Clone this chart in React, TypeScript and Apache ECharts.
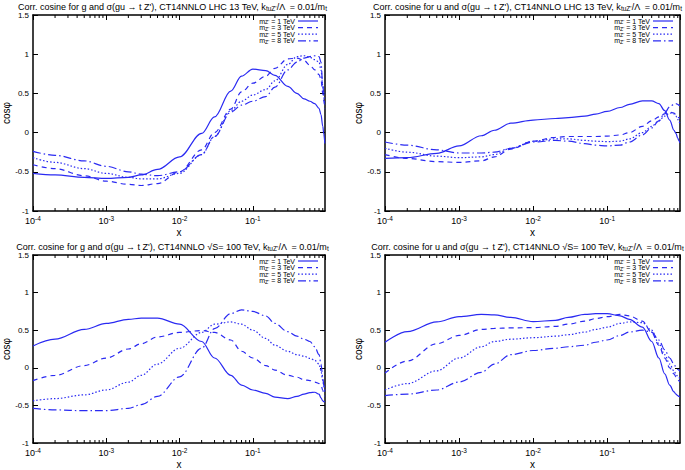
import React, { useEffect, useRef } from "react";
import * as echarts from "echarts";

// shared x sampling (momentum fraction)
const xs = [1e-4, 2e-4, 5e-4, 1e-3, 2e-3, 3e-3, 5e-3, 1e-2, 2e-2, 3e-2, 5e-2, 7e-2, 0.1, 0.15, 0.2, 0.3, 0.4, 0.5, 0.6, 0.7, 0.8, 0.85, 0.9, 0.93, 0.96];

// LHC 13 TeV, gluon
const lhcG1 = [-0.52, -0.54, -0.57, -0.585, -0.57, -0.54, -0.47, -0.31, -0.01, 0.2, 0.53, 0.72, 0.81, 0.79, 0.73, 0.59, 0.5, 0.43, 0.4, 0.37, 0.31, 0.23, 0.08, -0.02, -0.14];
const lhcG3 = [-0.41, -0.46, -0.55, -0.62, -0.66, -0.675, -0.65, -0.5, -0.22, 0.0, 0.3, 0.52, 0.63, 0.72, 0.82, 0.94, 0.95, 0.92, 0.86, 0.8, 0.74, 0.68, 0.5, 0.4, 0.3];
const lhcG5 = [-0.32, -0.38, -0.46, -0.52, -0.57, -0.59, -0.59, -0.52, -0.28, -0.05, 0.28, 0.4, 0.48, 0.55, 0.66, 0.87, 0.97, 0.98, 0.96, 0.93, 0.9, 0.8, 0.6, 0.45, 0.35];
const lhcG8 = [-0.24, -0.29, -0.36, -0.43, -0.5, -0.53, -0.55, -0.5, -0.28, -0.05, 0.26, 0.35, 0.4, 0.46, 0.58, 0.8, 0.9, 0.95, 0.97, 0.98, 0.97, 0.9, 0.6, 0.5, 0.45];

// LHC 13 TeV, u quark
const lhcU1 = [-0.33, -0.32, -0.265, -0.17, -0.04, 0.03, 0.12, 0.16, 0.18, 0.19, 0.21, 0.235, 0.27, 0.32, 0.36, 0.405, 0.405, 0.37, 0.28, 0.16, 0.03, -0.01, -0.07, -0.1, -0.13];
const lhcU3 = [-0.28, -0.33, -0.37, -0.38, -0.36, -0.31, -0.21, -0.11, -0.06, -0.05, -0.05, -0.05, -0.045, -0.03, 0.0, 0.08, 0.15, 0.2, 0.24, 0.26, 0.25, 0.23, 0.2, 0.19, 0.18];
const lhcU5 = [-0.2, -0.25, -0.3, -0.32, -0.31, -0.28, -0.2, -0.11, -0.08, -0.08, -0.1, -0.11, -0.115, -0.11, -0.08, 0.0, 0.08, 0.15, 0.21, 0.25, 0.24, 0.21, 0.17, 0.14, 0.12];
const lhcU8 = [-0.12, -0.16, -0.22, -0.26, -0.26, -0.25, -0.2, -0.12, -0.1, -0.11, -0.14, -0.16, -0.17, -0.16, -0.12, -0.03, 0.06, 0.15, 0.25, 0.33, 0.36, 0.37, 0.36, 0.35, 0.34];

// 100 TeV, gluon
const fccG1 = [0.29, 0.38, 0.51, 0.59, 0.645, 0.66, 0.66, 0.58, 0.35, 0.13, -0.1, -0.23, -0.295, -0.34, -0.39, -0.41, -0.38, -0.35, -0.33, -0.325, -0.35, -0.4, -0.44, -0.45, -0.45];
const fccG3 = [-0.17, -0.1, 0.03, 0.13, 0.25, 0.32, 0.41, 0.47, 0.495, 0.47, 0.37, 0.22, 0.13, 0.03, -0.03, -0.1, -0.125, -0.16, -0.17, -0.19, -0.21, -0.23, -0.3, -0.34, -0.38];
const fccG5 = [-0.44, -0.41, -0.36, -0.295, -0.19, -0.1, 0.05, 0.26, 0.47, 0.58, 0.61, 0.58, 0.5, 0.39, 0.3, 0.22, 0.175, 0.155, 0.125, 0.1, 0.05, -0.04, -0.17, -0.24, -0.3];
const fccG8 = [-0.54, -0.56, -0.57, -0.57, -0.54, -0.49, -0.38, -0.12, 0.26, 0.52, 0.72, 0.77, 0.75, 0.69, 0.59, 0.48, 0.42, 0.38, 0.35, 0.28, 0.175, 0.05, -0.12, -0.24, -0.34];

// 100 TeV, u quark
const fccU1 = [0.34, 0.48, 0.61, 0.68, 0.71, 0.705, 0.67, 0.615, 0.63, 0.67, 0.71, 0.72, 0.72, 0.69, 0.645, 0.54, 0.35, 0.13, -0.08, -0.23, -0.32, -0.35, -0.37, -0.38, -0.39];
const fccU3 = [-0.07, 0.09, 0.32, 0.43, 0.51, 0.525, 0.53, 0.535, 0.55, 0.58, 0.62, 0.655, 0.68, 0.71, 0.69, 0.62, 0.47, 0.3, 0.13, 0.0, -0.08, -0.12, -0.15, -0.17, -0.19];
const fccU5 = [-0.295, -0.21, -0.04, 0.13, 0.28, 0.35, 0.38, 0.4, 0.42, 0.44, 0.475, 0.51, 0.54, 0.59, 0.61, 0.6, 0.5, 0.325, 0.175, 0.05, -0.04, -0.08, -0.12, -0.13, -0.145];
const fccU8 = [-0.37, -0.35, -0.295, -0.19, -0.06, 0.05, 0.175, 0.23, 0.26, 0.28, 0.3, 0.34, 0.37, 0.43, 0.475, 0.5, 0.475, 0.37, 0.24, 0.13, 0.05, 0.01, -0.02, -0.03, -0.05];

const massLabels = ["1", "3", "5", "8"];
const yTicks = [-1, -0.5, 0, 0.5, 1, 1.5];
const minorMantissas = [2, 3, 4, 5, 6, 7, 8, 9];
const decades = [-4, -3, -2, -1];

const titles = [
  "Corr. cosine for g and σ(gu → t Z'), CT14NNLO LHC 13 TeV, k{sub|tuZ'}/Λ  = 0.01/m{sub|t}",
  "Corr. cosine for u and σ(gu → t Z'), CT14NNLO LHC 13 TeV, k{sub|tuZ'}/Λ  = 0.01/m{sub|t}",
  "Corr. cosine for g and σ(gu → t Z'), CT14NNLO √S= 100 TeV, k{sub|tuZ'}/Λ  = 0.01/m{sub|t}",
  "Corr. cosine for u and σ(gu → t Z'), CT14NNLO √S= 100 TeV, k{sub|tuZ'}/Λ  = 0.01/m{sub|t}",
];

const panelSeries = [
  [lhcG1, lhcG3, lhcG5, lhcG8],
  [lhcU1, lhcU3, lhcU5, lhcU8],
  [fccG1, fccG3, fccG5, fccG8],
  [fccU1, fccU3, fccU5, fccU8],
];

const FONT = "'Liberation Sans', Arial, Helvetica, sans-serif";
const BLUE = "#2a2af2";
const dashes: (number[] | "solid")[] = ["solid", [5, 4], [1.5, 2], [8, 3, 1.5, 3]];

const panels = [
  { left: 30, top: 15, width: 295, height: 196 },
  { left: 385, top: 15, width: 295, height: 196 },
  { left: 30, top: 255, width: 295, height: 195 },
  { left: 385, top: 255, width: 295, height: 195 },
];

const XMIN = 1e-4;
const XMAX = 0.965;

export default function App() {
  const ref = useRef<HTMLDivElement>(null);
  useEffect(() => {
    if (!ref.current) return;
    const chart = echarts.init(ref.current, null, { renderer: "svg" });

    const minorTicks: number[] = [];
    decades.forEach((d) => minorMantissas.forEach((m) => {
      const v = m * Math.pow(10, d);
      if (v < XMAX) minorTicks.push(v);
    }));

    const grid: any[] = [];
    const xAxis: any[] = [];
    const yAxis: any[] = [];
    const series: any[] = [];
    const graphic: any[] = [];

    panels.forEach((p, i) => {
      grid.push({ left: p.left, top: p.top, width: p.width, height: p.height, containLabel: false });
      const axisLine = { show: true, onZero: false, lineStyle: { color: "#000", width: 1.5 } };
      xAxis.push({
        type: "log", logBase: 10, gridIndex: i, min: XMIN, max: XMAX, position: "bottom",
        axisLine, axisTick: { show: true, inside: true, length: 5, lineStyle: { color: "#000", width: 1 } },
        splitLine: { show: false },
        axisLabel: {
          color: "#000", fontFamily: FONT, fontSize: 9, margin: 4, showMaxLabel: false,
          formatter: (v: number) => {
            const l = Math.log10(v);
            const e = Math.round(l);
            if (Math.abs(l - e) > 1e-6) return "";
            return `{b|10}{sup|${e}}`;
          },
          rich: {
            b: { fontSize: 9, lineHeight: 12, fontFamily: FONT, color: "#000" },
            sup: { fontSize: 6.5, lineHeight: 7, verticalAlign: "top", fontFamily: FONT, color: "#000" },
          },
        },
        name: "x", nameLocation: "middle", nameGap: 16,
        nameTextStyle: { color: "#000", fontFamily: FONT, fontSize: 10 },
      });
      xAxis.push({
        type: "log", logBase: 10, gridIndex: i, min: XMIN, max: XMAX, position: "top",
        axisLine, axisTick: { show: true, inside: true, length: 5, lineStyle: { color: "#000", width: 1 } },
        axisLabel: { show: false }, splitLine: { show: false },
      });
      yAxis.push({
        type: "value", gridIndex: i, min: -1, max: 1.5, interval: 0.5, position: "left",
        axisLine, axisTick: { show: true, inside: true, length: 5, lineStyle: { color: "#000", width: 1 } },
        splitLine: { show: false },
        axisLabel: { color: "#000", fontFamily: FONT, fontSize: 8, margin: 4, formatter: (v: number) => (yTicks.includes(v) ? String(v) : "") },
        name: "cosφ", nameLocation: "middle", nameGap: 22, nameRotate: 90,
        nameTextStyle: { color: "#000", fontFamily: FONT, fontSize: 10 },
      });
      yAxis.push({
        type: "value", gridIndex: i, min: -1, max: 1.5, interval: 0.5, position: "right",
        axisLine, axisTick: { show: true, inside: true, length: 5, lineStyle: { color: "#000", width: 1 } },
        splitLine: { show: false }, axisLabel: { show: false },
      });

      panelSeries[i].forEach((ys, k) => {
        series.push({
          type: "line", xAxisIndex: 2 * i, yAxisIndex: 2 * i,
          data: xs.map((x, j) => [x, ys[j]]),
          symbol: "none", showSymbol: false, smooth: 0.35, smoothMonotone: "x",
          lineStyle: { color: BLUE, width: 1.2, type: dashes[k] },
          z: 3,
        });
      });

      series.push({
        type: "custom", xAxisIndex: 2 * i, yAxisIndex: 2 * i, silent: true, z: 4,
        data: minorTicks.map((v) => [v, 0]),
        renderItem: (_params: any, api: any) => {
          const x = api.value(0);
          const b = api.coord([x, -1]);
          const t = api.coord([x, 1.5]);
          return {
            type: "group",
            children: [
              { type: "line", shape: { x1: b[0], y1: b[1], x2: b[0], y2: b[1] - 3 }, style: { stroke: "#000", lineWidth: 1 } },
              { type: "line", shape: { x1: t[0], y1: t[1], x2: t[0], y2: t[1] + 3 }, style: { stroke: "#000", lineWidth: 1 } },
            ],
          };
        },
      });

      // title
      graphic.push({
        type: "text", x: p.left + p.width / 2 - 5, y: p.top - 8,
        style: {
          text: titles[i], align: "center", verticalAlign: "middle",
          fontFamily: FONT, fontSize: 9, fill: "#000",
          rich: {
            sub: { fontSize: 6.5, lineHeight: 6, verticalAlign: "bottom", fontFamily: FONT, fill: "#000" },
          },
        },
        z: 10,
      });

      // legend
      const right = p.left + p.width;
      massLabels.forEach((m, k) => {
        const y = p.top + 6 + k * 6.6;
        graphic.push({
          type: "text", x: right - 30, y,
          style: {
            text: `m{sub|Z'} = ${m} TeV`, align: "right", verticalAlign: "middle",
            fontFamily: FONT, fontSize: 7, fill: "#000",
            rich: { sub: { fontSize: 5, lineHeight: 4, verticalAlign: "bottom", fontFamily: FONT, fill: "#000" } },
          },
          z: 10,
        });
        graphic.push({
          type: "line", shape: { x1: right - 27, y1: y, x2: right - 7, y2: y },
          style: { stroke: BLUE, lineWidth: 1.2, lineDash: dashes[k] === "solid" ? null : dashes[k] },
          z: 10,
        });
      });
    });

    chart.setOption({
      animation: false,
      backgroundColor: "#fff",
      grid, xAxis, yAxis, series, graphic,
    });
    return () => chart.dispose();
  }, []);

  return <div ref={ref} style={{ position: "fixed", left: 0, top: 0, width: 685, height: 470 }} />;
}
